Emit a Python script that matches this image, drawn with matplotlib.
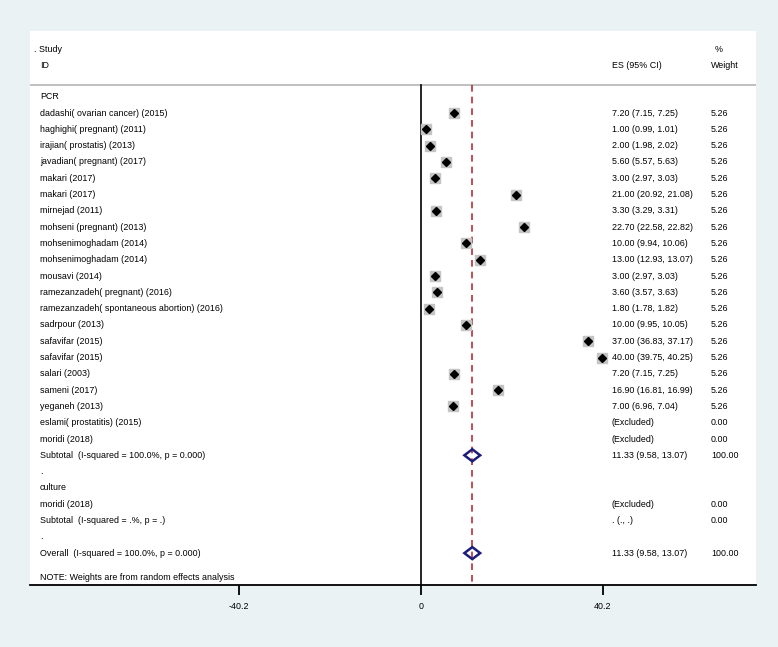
import matplotlib.pyplot as plt
from matplotlib.patches import Polygon

plt.rcParams['font.family'] = ['Liberation Sans', 'DejaVu Sans']

# PCR studies
pcr_names = ["dadashi( ovarian cancer) (2015)", "haghighi( pregnant) (2011)",
             "irajian( prostatis) (2013)", "javadian( pregnant) (2017)",
             "makari (2017)", "makari (2017)", "mirnejad (2011)",
             "mohseni (pregnant) (2013)", "mohsenimoghadam (2014)",
             "mohsenimoghadam (2014)", "mousavi (2014)",
             "ramezanzadeh( pregnant) (2016)",
             "ramezanzadeh( spontaneous abortion) (2016)", "sadrpour (2013)",
             "safavifar (2015)", "safavifar (2015)", "salari (2003)",
             "sameni (2017)", "yeganeh (2013)"]
pcr_es = [7.20, 1.00, 2.00, 5.60, 3.00, 21.00, 3.30, 22.70, 10.00, 13.00,
          3.00, 3.60, 1.80, 10.00, 37.00, 40.00, 7.20, 16.90, 7.00]
pcr_lo = [7.15, 0.99, 1.98, 5.57, 2.97, 20.92, 3.29, 22.58, 9.94, 12.93,
          2.97, 3.57, 1.78, 9.95, 36.83, 39.75, 7.15, 16.81, 6.96]
pcr_hi = [7.25, 1.01, 2.02, 5.63, 3.03, 21.08, 3.31, 22.82, 10.06, 13.07,
          3.03, 3.63, 1.82, 10.05, 37.17, 40.25, 7.25, 16.99, 7.04]
pcr_weight = [5.26] * 19
excluded_pcr = ["eslami( prostatitis) (2015)", "moridi (2018)"]
excluded_culture = ["moridi (2018)"]

# pooled estimates
sub_es, sub_lo, sub_hi = 11.33, 9.58, 13.07
overall_es, overall_lo, overall_hi = 11.33, 9.58, 13.07
xticks = [-40.2, 0, 40.2]

fig = plt.figure(figsize=(7.78, 6.47), dpi=100, facecolor='#eaf2f3')
W, H = 778, 647
ax = fig.add_axes([30 / W, 1 - 585 / H, (756 - 30) / W, (585 - 31) / H])
ax.set_facecolor('white')

px_per_unit = 4.527
ax.set_xlim((30 - 421) / px_per_unit, (756 - 421) / px_per_unit)
row_h = 16.3
ax.set_ylim((585 - 96.7) / row_h, (31 - 96.7) / row_h)

fs = 6.4
x_lab = (40 - 421) / px_per_unit
x_es = (612 - 421) / px_per_unit
x_w = (711 - 421) / px_per_unit

def row(y, label, es_txt='', w_txt=''):
    ax.text(x_lab, y, label, fontsize=fs, va='center', ha='left')
    if es_txt:
        ax.text(x_es, y, es_txt, fontsize=fs, va='center', ha='left')
    if w_txt:
        ax.text(x_w, y, w_txt, fontsize=fs, va='center', ha='left')

# header
hy1, hy2 = (49 - 96.7) / row_h, (65.3 - 96.7) / row_h
ax.text((34 - 421) / px_per_unit, hy1, ". Study", fontsize=fs, va='center')
ax.text(x_lab, hy2, "ID", fontsize=fs, va='center')
ax.text(x_es, hy2, "ES (95% CI)", fontsize=fs, va='center')
ax.text((715 - 421) / px_per_unit, hy1, "%", fontsize=fs, va='center')
ax.text(x_w, hy2, "Weight", fontsize=fs, va='center')
sep_y = (85 - 96.7) / row_h
ax.axhline(sep_y, color='#b4b4b4', lw=1.2)

y_bottom = ax.get_ylim()[0]
ax.plot([0, 0], [sep_y, y_bottom], color='black', lw=1.2, zorder=2)
ax.plot([overall_es, overall_es], [sep_y, y_bottom], color='#b3303c', lw=1.2,
        dashes=(4, 3), zorder=2)

def diamond(y, es, lo, hi):
    d = Polygon([(lo, y), (es, y - 0.37), (hi, y), (es, y + 0.37)], closed=True,
                fill=False, edgecolor='#1c1c7a', lw=1.8, zorder=4)
    ax.add_patch(d)

y = 0
row(y, "PCR")
for name, e, lo, hi, w in zip(pcr_names, pcr_es, pcr_lo, pcr_hi, pcr_weight):
    y += 1
    row(y, name, f"{e:.2f} ({lo:.2f}, {hi:.2f})", f"{w:.2f}")
    ax.plot(e, y, marker='s', ms=7.5, mfc='#c4c4c4', mec='#c4c4c4', zorder=3)
    ax.plot([lo, hi], [y, y], color='black', lw=0.8, zorder=4)
    ax.plot(e, y, marker='D', ms=4.2, color='black', zorder=5)
for name in excluded_pcr:
    y += 1
    row(y, name, "(Excluded)", "0.00")
y += 1
row(y, "Subtotal  (I-squared = 100.0%, p = 0.000)",
    f"{sub_es:.2f} ({sub_lo:.2f}, {sub_hi:.2f})", "100.00")
diamond(y, sub_es, sub_lo, sub_hi)
y += 1
row(y, ".")
y += 1
row(y, "culture")
for name in excluded_culture:
    y += 1
    row(y, name, "(Excluded)", "0.00")
y += 1
row(y, "Subtotal  (I-squared = .%, p = .)", ". (., .)", "0.00")
y += 1
row(y, ".")
y += 1
row(y, "Overall  (I-squared = 100.0%, p = 0.000)",
    f"{overall_es:.2f} ({overall_lo:.2f}, {overall_hi:.2f})", "100.00")
diamond(y, overall_es, overall_lo, overall_hi)
ax.text(x_lab, (577.5 - 96.7) / row_h, "NOTE: Weights are from random effects analysis",
        fontsize=fs, va='center')

for s in ['top', 'left', 'right']:
    ax.spines[s].set_visible(False)
ax.spines['bottom'].set_linewidth(1.3)
ax.set_yticks([])
ax.set_xticks(xticks)
ax.set_xticklabels(["-40.2", "0", "40.2"], fontsize=fs)
ax.tick_params(axis='x', length=7, width=1.3, pad=5)

fig.savefig("out.png", dpi=100, facecolor=fig.get_facecolor())
